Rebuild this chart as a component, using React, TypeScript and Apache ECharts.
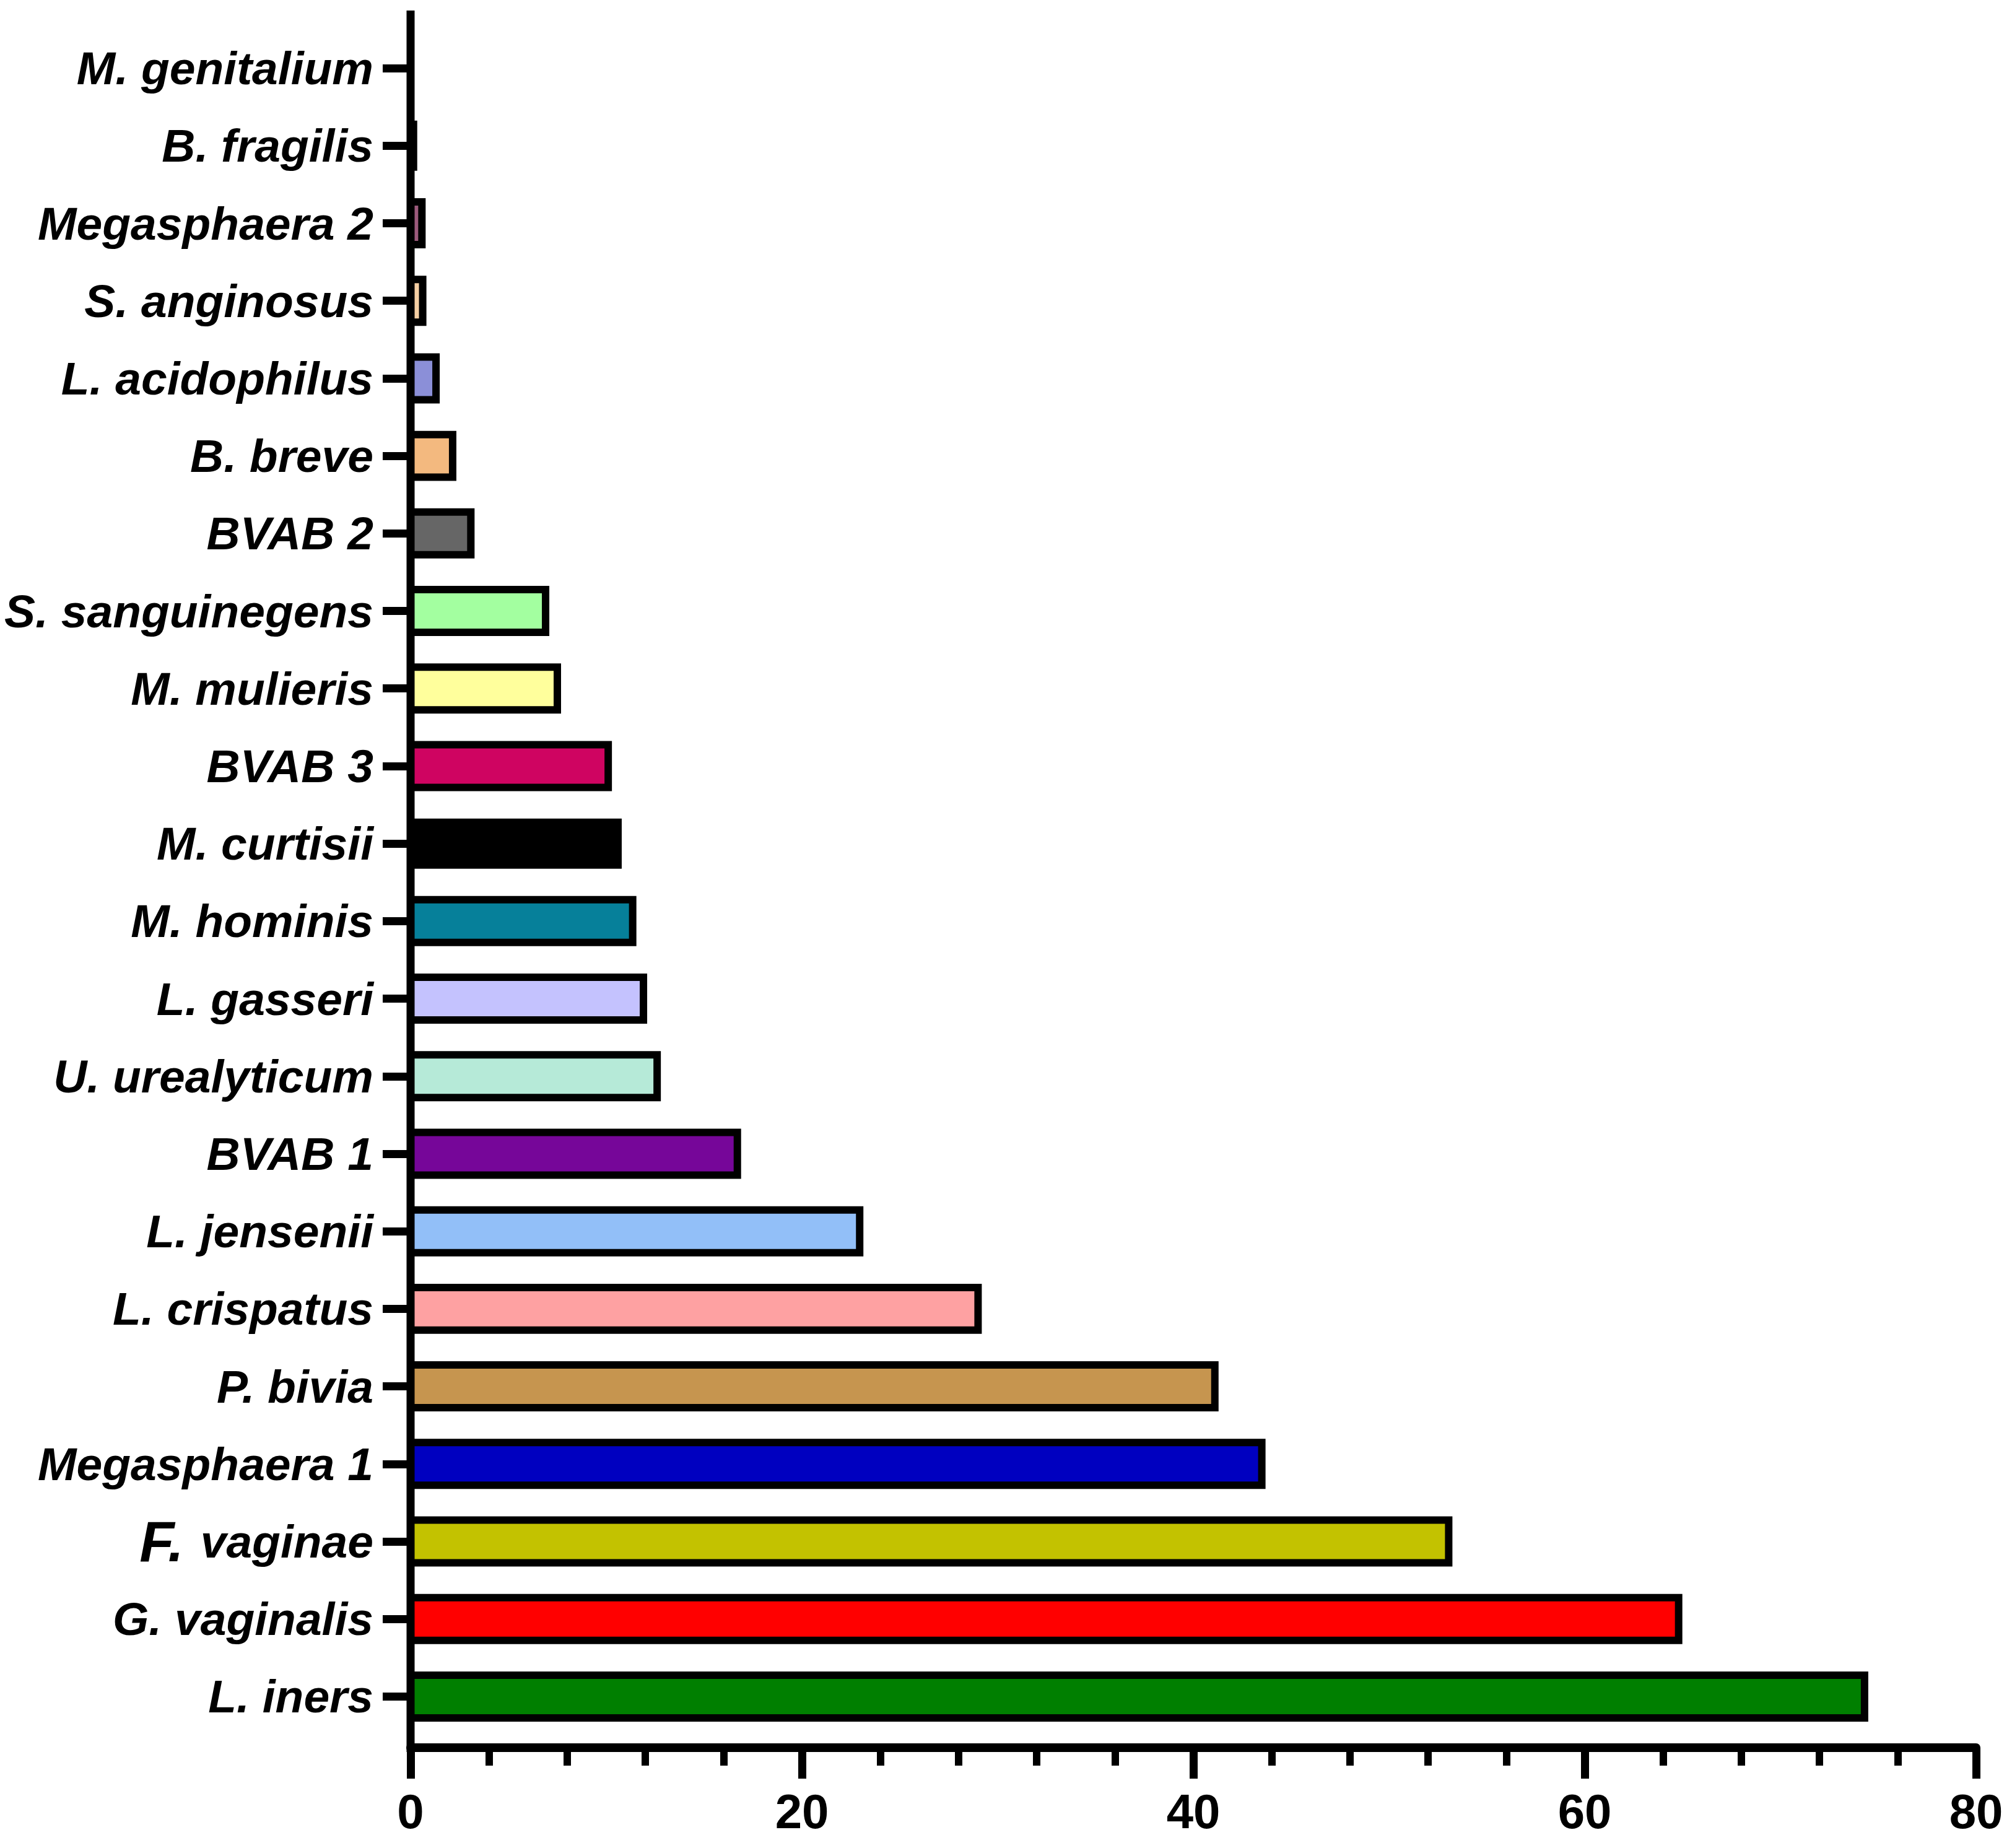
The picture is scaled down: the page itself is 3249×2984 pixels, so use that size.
import React, { useEffect, useRef } from "react";
import * as echarts from "echarts";

const categories = [
  "M. genitalium",
  "B. fragilis",
  "Megasphaera 2",
  "S. anginosus",
  "L. acidophilus",
  "B. breve",
  "BVAB 2",
  "S. sanguinegens",
  "M. mulieris",
  "BVAB 3",
  "M. curtisii",
  "M. hominis",
  "L. gasseri",
  "U. urealyticum",
  "BVAB 1",
  "L. jensenii",
  "L. crispatus",
  "P. bivia",
  "Megasphaera 1",
  "F. vaginae",
  "G. vaginalis",
  "L. iners",
];

const values = [
  0, 0.15, 0.58, 0.62, 1.3, 2.15, 3.08, 6.9, 7.5, 10.1, 10.6, 11.35, 11.9,
  12.6, 16.7, 22.95, 29.0, 41.1, 43.5, 53.05, 64.8, 74.3,
];

const barColors = [
  "#000000",
  "#222222",
  "#9c5a7c",
  "#f6cfa3",
  "#8b8fd8",
  "#f3b97f",
  "#666666",
  "#a3ffa0",
  "#ffff9c",
  "#cf0461",
  "#000000",
  "#06809a",
  "#c4c2fe",
  "#b6ead8",
  "#760699",
  "#92bff8",
  "#fea1a2",
  "#c6954f",
  "#0000c0",
  "#c3c200",
  "#ff0000",
  "#007f00",
];

const xTicks = [0, 20, 40, 60, 80];

const W = 3249;
const H = 2984;
const GRID_LEFT = 663;
const GRID_RIGHT = 58;
const GRID_TOP = 47.5;
const GRID_BOTTOM = 182;
const BAR_FRACTION = 0.551;
const BORDER = 12;

export default function App() {
  const ref = useRef<HTMLDivElement>(null);

  useEffect(() => {
    document.body.style.margin = "0";
    if (!ref.current) return;
    const chart = echarts.init(ref.current, undefined, { renderer: "svg" });
    const font = "'Liberation Sans', Arial, sans-serif";
    chart.setOption({
      animation: false,
      backgroundColor: "#ffffff",
      grid: {
        left: GRID_LEFT,
        right: GRID_RIGHT,
        top: GRID_TOP,
        bottom: GRID_BOTTOM,
        containLabel: false,
      },
      xAxis: {
        type: "value",
        min: xTicks[0],
        max: xTicks[xTicks.length - 1],
        interval: 20,
        offset: 20,
        axisLine: { show: true, lineStyle: { color: "#000", width: 14 } },
        axisTick: {
          show: true,
          length: 50,
          lineStyle: { color: "#000", width: 13 },
        },
        minorTick: {
          show: true,
          splitNumber: 5,
          length: 29,
          lineStyle: { color: "#000", width: 12 },
        },
        splitLine: { show: false },
        axisLabel: {
          color: "#000",
          fontFamily: font,
          fontWeight: "bold",
          fontSize: 78,
          margin: 64,
        },
      },
      yAxis: {
        type: "category",
        inverse: true,
        data: categories,
        axisLine: { show: false },
        axisTick: {
          show: true,
          alignWithLabel: true,
          length: 45,
          lineStyle: { color: "#000", width: 13 },
        },
        splitLine: { show: false },
        axisLabel: {
          color: "#000",
          fontFamily: font,
          fontWeight: "bold",
          fontStyle: "italic",
          fontSize: 75,
          margin: 60,
          formatter: (v: string) =>
            v === "F. vaginae" ? "{f|F.} vaginae" : v,
          rich: {
            f: {
              fontFamily: font,
              fontWeight: "bold",
              fontStyle: "italic",
              fontSize: 92,
              color: "#000",
              padding: [0, 6, 0, 0],
            },
          },
        },
      },
      graphic: [
        {
          type: "line",
          z: 10,
          shape: {
            x1: GRID_LEFT,
            y1: 17,
            x2: GRID_LEFT,
            y2: H - GRID_BOTTOM + 27,
          },
          style: { stroke: "#000", lineWidth: 13 },
        },
      ],
      series: [
        {
          type: "custom",
          encode: { x: 0, y: 1 },
          data: values.map((v, i) => [v, i]),
          z: 5,
          renderItem: (params: any, api: any) => {
            const v = api.value(0);
            const idx = api.value(1);
            const start = api.coord([0, idx]);
            const end = api.coord([v, idx]);
            const band = api.size([0, 1])[1];
            const h = band * BAR_FRACTION;
            return {
              type: "rect",
              shape: {
                x: start[0],
                y: start[1] - h / 2,
                width: end[0] - start[0],
                height: h,
              },
              style: {
                fill: barColors[params.dataIndex],
                stroke: "#000",
                lineWidth: BORDER,
                lineJoin: "miter",
              },
            };
          },
        },
      ],
    });
    return () => chart.dispose();
  }, []);

  return <div ref={ref} style={{ width: W, height: H }} />;
}
